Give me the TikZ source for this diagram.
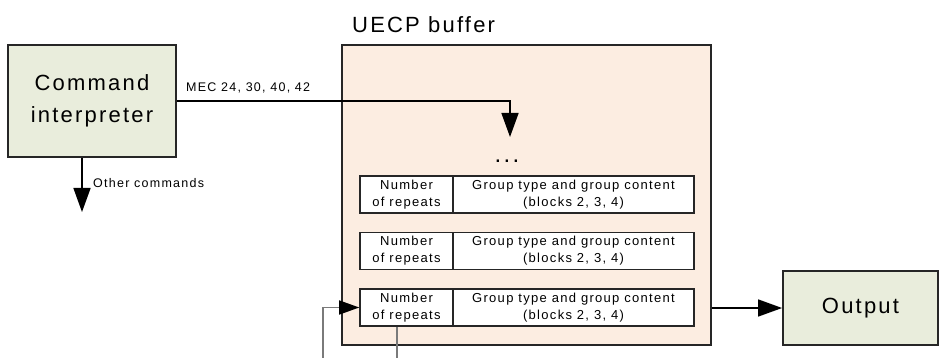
\documentclass[tikz,border=0pt]{standalone}
\usepackage{fontspec}
\setmainfont{Liberation Sans}[LetterSpace=10]
\usetikzlibrary{arrows.meta}
\definecolor{cmdgreen}{HTML}{E9EDDC}
\definecolor{bufpeach}{HTML}{FCEDE1}
\definecolor{fbgray}{HTML}{7A7A7A}
\tikzset{
  bigtxt/.style={font=\fontsize{22}{32}\selectfont},
  smalltxt/.style={font=\fontsize{12.5}{17}\selectfont},
  celltxt/.style={font=\fontsize{13}{17}\selectfont},
  greenbox/.style={draw=black!85, line width=1.8pt, fill=cmdgreen, bigtxt, align=center, inner sep=0pt},
  bufbox/.style={draw=black!85, line width=1.8pt, fill=bufpeach, inner sep=0pt},
  cellbox/.style={draw=black!85, line width=1.6pt, fill=white, celltxt, align=center, inner sep=0pt, minimum height=37pt},
  conn/.style={line width=1.5pt, -{Triangle[length=24pt,width=17pt]}},
  fbline/.style={draw=fbgray, line width=1.4pt},
}
\begin{document}
\begin{tikzpicture}[x=1pt,y=-1pt]
\useasboundingbox (0,0) rectangle (939,358);
% buffer
\node[bufbox, minimum width=369pt, minimum height=300pt] (buf) at (526.5,195) {};
\node[bigtxt, anchor=base west, inner sep=0pt] (buftitle) at (352,33) {UECP buffer};
% command interpreter
\node[greenbox, minimum width=168pt, minimum height=112pt] (cmd) at (92,101) {Command\\interpreter};
% dots
\node[font=\fontsize{24}{28}\selectfont, anchor=base, inner sep=0pt] (dots) at (507,163) {...};
% rows
\foreach \i/\y in {1/194.5,2/251,3/307.5}{
  \node[cellbox, minimum width=93pt] (num\i) at (406.5,\y) {Number\\of repeats};
  \node[cellbox, minimum width=241pt] (grp\i) at (573.5,\y) {Group type and group content\\(blocks 2, 3, 4)};
}
% output
\node[greenbox, minimum width=155pt, minimum height=74pt] (out) at (860.5,308) {Output};
% connectors
\coordinate (mecturn) at (510,101);
\coordinate (mecend) at (510,137);
\draw[conn] (cmd.east |- mecturn) -- (mecturn) -- (mecend);
\node[smalltxt, anchor=base west, inner sep=0pt] (meclbl) at (186,92) {MEC 24, 30, 40, 42};
\coordinate (othend) at (82,212);
\draw[conn] (cmd.south -| othend) -- (othend);
\node[smalltxt, anchor=base west, inner sep=0pt] (othlbl) at (93,187) {Other commands};
\draw[conn] (buf.east |- out.west) -- (out.west);
% feedback lines
\coordinate (fb1) at (323,358);
\coordinate (fb2) at (397,358);
\draw[fbline] (fb1) |- (num3.west);
\draw[-{Triangle[length=20pt,width=14pt]}, line width=1.5pt] (345,307.5) -- (num3.west);
\draw[fbline] (fb2 |- num3.south) -- (fb2);
\end{tikzpicture}
\end{document}
